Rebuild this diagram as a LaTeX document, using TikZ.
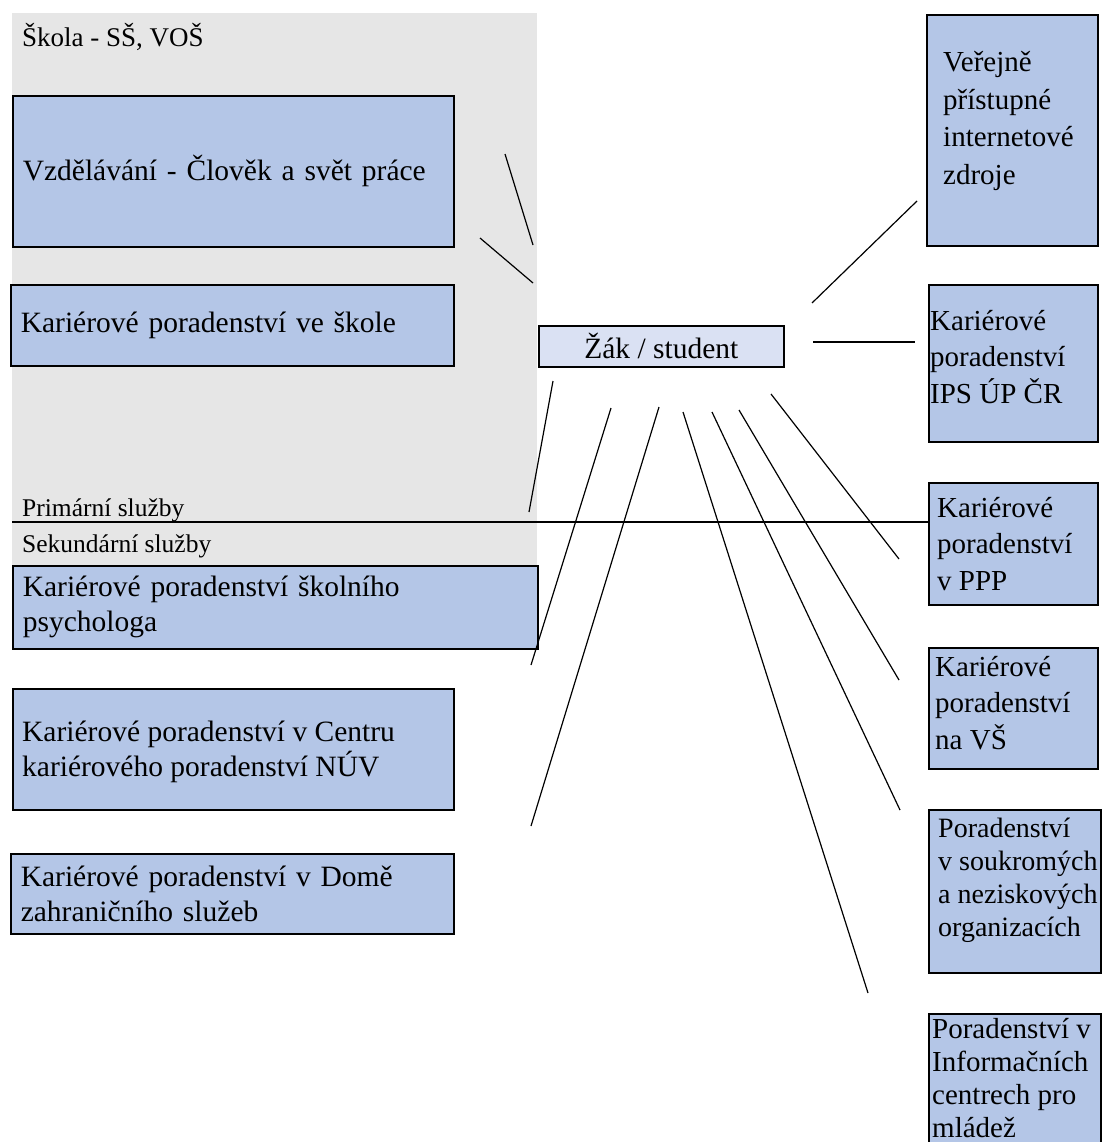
\documentclass[tikz,border=0pt]{standalone}
\usepackage{fontspec}
\setmainfont{Liberation Serif}
\definecolor{boxblue}{HTML}{B4C6E7}
\definecolor{zakblue}{HTML}{DAE1F3}
\definecolor{schoolgray}{HTML}{E6E6E6}
\begin{document}
\begin{tikzpicture}[x=1pt,y=-1pt,
  bluebox/.style={draw=black, fill=boxblue, line width=1.6pt, anchor=north west,
    align=left, inner ysep=0pt, font=\fontsize{29.5}{35}\selectfont},
  plainbox/.style={draw=black, fill=boxblue, line width=1.6pt, anchor=north west, inner sep=0pt},
  boxtxt/.style={anchor=west, inner sep=0pt, align=left, font=\fontsize{29}{36.5}\selectfont},
  conn/.style={line width=1.2pt, draw=black},
  lbl/.style={anchor=base west, inner sep=0pt, font=\fontsize{25.5}{30}\selectfont}]
\useasboundingbox (0,0) rectangle (1101,1142);
\fill[white] (0,0) rectangle (1101,1142);
% school background
\node[fill=schoolgray, inner sep=0pt, minimum width=525pt, minimum height=587pt, anchor=north west] (school) at (12,13) {};
\node[lbl, font=\fontsize{27}{32}\selectfont] (skolaT) at (22,47) {Škola - SŠ, VOŠ};
% left boxes
\node[bluebox, text width=421pt, inner xsep=10pt, minimum height=151pt] (vzdel) at (12,95) {Vzdělávání - Člověk a svět práce};
\node[bluebox, text width=423pt, inner xsep=10pt, minimum height=81pt] (kpskola) at (10,284) {Kariérové poradenství ve škole};
\node[bluebox, text width=505pt, inner xsep=10pt, minimum height=83pt] (psych) at (12,565) {Kariérové poradenství školního\\psychologa};
\node[plainbox, minimum width=441pt, minimum height=121pt] (centrum) at (12,688) {};
\node[boxtxt, font=\fontsize{29.5}{35}\selectfont] (centrumT) at (22,752) {Kariérové poradenství v~Centru\\kariérového poradenství NÚV};
\node[bluebox, text width=423pt, inner xsep=10pt, minimum height=80pt] (dum) at (10,853) {Kariérové poradenství v~Domě\\zahraničního služeb};
% centre
\node[draw=black, fill=zakblue, line width=1.6pt, minimum width=245pt, minimum height=41pt, inner sep=0pt, anchor=north west, font=\fontsize{29.5}{35}\selectfont] (zak) at (538,325) {Žák / student};
% right boxes
\node[plainbox, minimum width=171pt, minimum height=231pt] (verejne) at (926,14) {};
\node[boxtxt, font=\fontsize{29}{37.5}\selectfont] (verejneT) at (943,121) {Veřejně\\přístupné\\internetové\\zdroje};
\node[plainbox, minimum width=169pt, minimum height=157pt] (ips) at (928,284) {};
\node[boxtxt] (ipsT) at (930,357) {Kariérové\\poradenství\\IPS ÚP ČR};
\node[plainbox, minimum width=169pt, minimum height=122pt] (ppp) at (928,482) {};
\node[boxtxt] (pppT) at (937,544) {Kariérové\\poradenství\\v PPP};
\node[plainbox, minimum width=169pt, minimum height=121pt] (vs) at (928,647) {};
\node[boxtxt] (vsT) at (935,703) {Kariérové\\poradenství\\na VŠ};
\node[plainbox, minimum width=172pt, minimum height=163pt] (soukr) at (928,809) {};
\node[boxtxt, font=\fontsize{28}{33}\selectfont] (soukrT) at (938,880) {Poradenství\\v soukromých\\a neziskových\\organizacích};
\node[plainbox, minimum width=172pt, minimum height=140pt] (info) at (928,1013) {};
\node[boxtxt, font=\fontsize{29}{33}\selectfont] (infoT) at (932,1078) {Poradenství v\\Informačních\\centrech pro\\mládež};
% divider
\coordinate (divL) at (12,522);
\draw[line width=1.6pt] (divL) -- (divL -| ppp.west);
\node[lbl] (prim) at (22,516) {Primární služby};
\node[lbl] (sek) at (22,552) {Sekundární služby};
% connector ends
\coordinate (a1) at (505,154); \coordinate (b1) at (533,245);
\coordinate (a2) at (480,238); \coordinate (b2) at (533,283);
\coordinate (a3) at (917,201); \coordinate (b3) at (812,303);
\coordinate (a4) at (813,342); \coordinate (b4) at (915,342);
\coordinate (a5) at (553,381); \coordinate (b5) at (529,512);
\coordinate (a6) at (611,408); \coordinate (b6) at (531,665);
\coordinate (a7) at (659,407); \coordinate (b7) at (531,826);
\coordinate (a8) at (683,412); \coordinate (b8) at (868,993);
\coordinate (a9) at (712,412); \coordinate (b9) at (900,810);
\coordinate (a10) at (739,410); \coordinate (b10) at (899,680);
\coordinate (a11) at (771,394); \coordinate (b11) at (899,559);
\foreach \i in {1,...,11} {\draw[conn] (a\i) -- (b\i);}
\end{tikzpicture}
\end{document}
